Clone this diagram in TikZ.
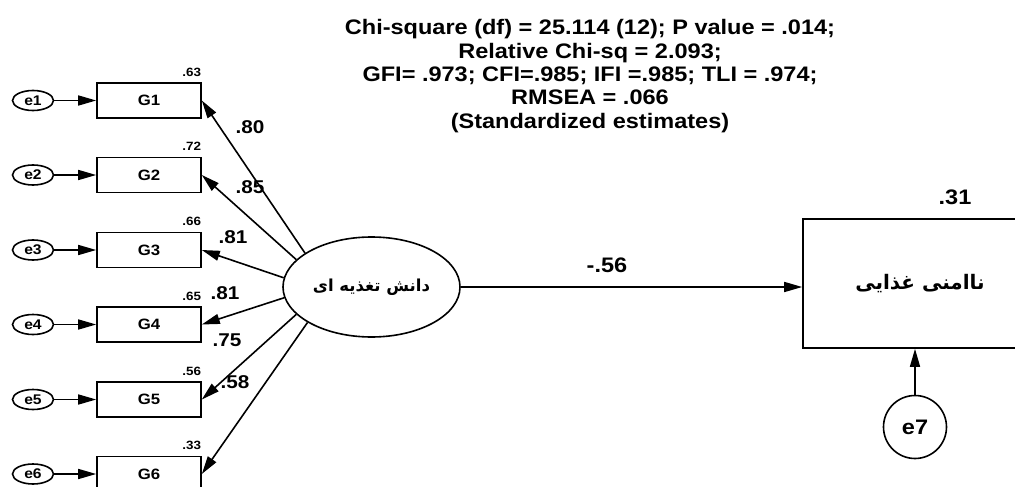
\documentclass[tikz,border=0pt]{standalone}
\usepackage{fontspec}
\setmainfont{Liberation Sans}[FakeStretch=1.12]
\newfontfamily\persfont[Script=Arabic]{DejaVu Sans}
\TeXXeTstate=1
\usetikzlibrary{arrows.meta, positioning, shapes.geometric}

\begin{document}
\begin{tikzpicture}[
  x=1pt, y=-1pt,
  line width=1.6pt,
  every node/.style={font=\bfseries},
  errnode/.style={ellipse, draw, minimum width=41pt, minimum height=20pt, inner sep=0pt, font=\fontsize{14}{14}\selectfont\bfseries},
  obsnode/.style={rectangle, draw, minimum width=104pt, minimum height=35pt, inner sep=0pt, font=\fontsize{15}{15}\selectfont\bfseries},
  latnode/.style={ellipse, draw, minimum width=177pt, minimum height=100pt, inner sep=0pt, font=\fontsize{16.5}{16.5}\selectfont\bfseries},
  outnode/.style={rectangle, draw, minimum width=234pt, minimum height=129pt, inner sep=0pt, font=\fontsize{20}{20}\selectfont\bfseries},
  r2label/.style={anchor=south east, inner sep=0pt, yshift=5pt, font=\fontsize{12}{12}\selectfont\bfseries},
  estlabel/.style={inner sep=0pt, font=\fontsize{18.5}{18.5}\selectfont\bfseries},
  arrowline/.style={-{Triangle[length=18pt, width=10pt]}},
]
\useasboundingbox (0,0) rectangle (1015,487);

\node[align=center, font=\fontsize{21}{23.3}\selectfont\bfseries] (fit) at (590,76) {Chi-square (df) = 25.114 (12); P value = .014;\\Relative Chi-sq = 2.093;\\GFI= .973; CFI=.985; IFI =.985; TLI = .974;\\RMSEA = .066\\(Standardized estimates)};

\node[errnode] (e1) at (33,100.5) {e1};
\node[errnode] (e2) at (33,175) {e2};
\node[errnode] (e3) at (33,250) {e3};
\node[errnode] (e4) at (33,324.5) {e4};
\node[errnode] (e5) at (33,399.5) {e5};
\node[errnode] (e6) at (33,474) {e6};

\node[obsnode] (g1) at (149,100.5) {G1};
\node[obsnode] (g2) at (149,175) {G2};
\node[obsnode] (g3) at (149,250) {G3};
\node[obsnode] (g4) at (149,324.5) {G4};
\node[obsnode] (g5) at (149,399.5) {G5};
\node[obsnode] (g6) at (149,474) {G6};

\node[r2label] (r1) at (g1.north east) {.63};
\node[r2label] (r2) at (g2.north east) {.72};
\node[r2label] (r3) at (g3.north east) {.66};
\node[r2label] (r4) at (g4.north east) {.65};
\node[r2label] (r5) at (g5.north east) {.56};
\node[r2label] (r6) at (g6.north east) {.33};

\draw[arrowline] (e1) -- (g1);
\draw[arrowline] (e2) -- (g2);
\draw[arrowline] (e3) -- (g3);
\draw[arrowline] (e4) -- (g4);
\draw[arrowline] (e5) -- (g5);
\draw[arrowline] (e6) -- (g6);

\node[latnode] (lat) at (371.5,287) {\persfont\bfseries\beginR دانش تغذیه ای\endR};

\draw[arrowline] (lat.153) -- (g1.east);
\draw[arrowline] (lat.160) -- (g2.east);
\draw[arrowline] (lat.174) -- (g3.east);
\draw[arrowline] (lat.187) -- (g4.east);
\draw[arrowline] (lat.200) -- (g5.east);
\draw[arrowline] (lat.209) -- (g6.east);

\node[estlabel] (l1) at (250,127) {.80};
\node[estlabel] (l2) at (250,187) {.85};
\node[estlabel] (l3) at (233,237) {.81};
\node[estlabel] (l4) at (225,293) {.81};
\node[estlabel] (l5) at (227,340) {.75};
\node[estlabel] (l6) at (235,382) {.58};

\node[outnode] (fi) at (920,283.5) {\persfont\bfseries\beginR ناامنی غذایی\endR};
\node[estlabel, font=\fontsize{21}{21}\selectfont\bfseries] (r7) at (955,197) {.31};

\draw[arrowline] (lat.east) -- (lat.east -| fi.west);
\node[estlabel, font=\fontsize{21}{21}\selectfont\bfseries] (l7) at (607,265) {-.56};

\node[circle, draw, minimum size=63pt, inner sep=0pt, font=\fontsize{21}{21}\selectfont\bfseries] (e7) at (915,427) {e7};
\draw[arrowline] (e7) -- (e7 |- fi.south);
\end{tikzpicture}
\end{document}
